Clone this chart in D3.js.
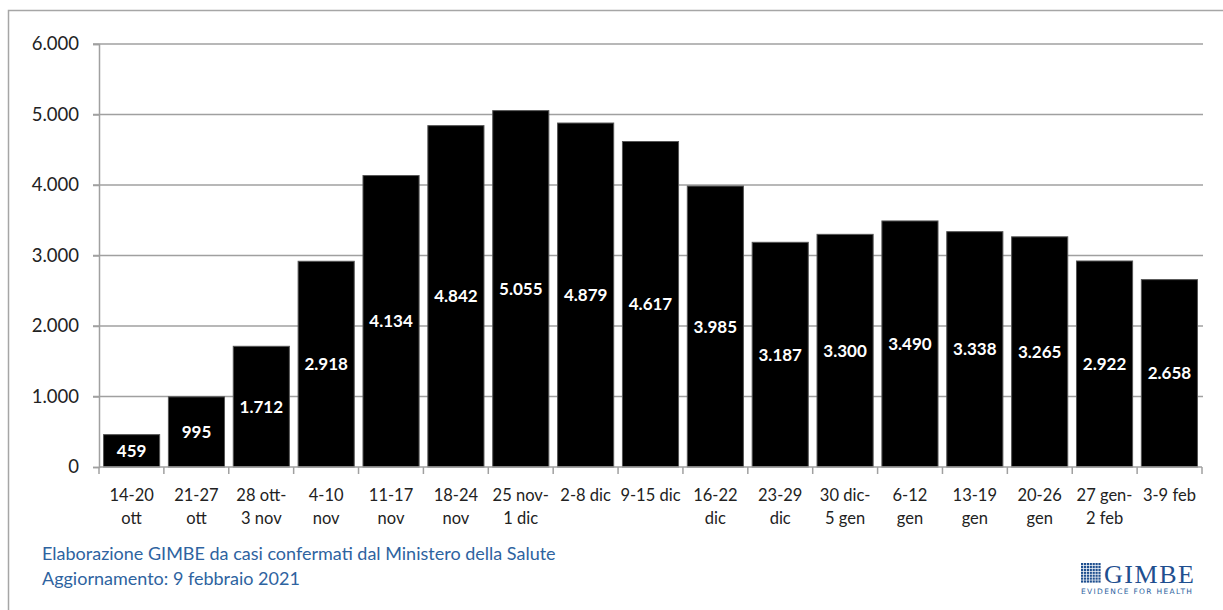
<!DOCTYPE html>
<html><head><meta charset="utf-8">
<script src="https://cdn.jsdelivr.net/npm/d3@7"></script>
<style>body{margin:0;background:#fff;}svg{display:block;}</style>
</head><body>
<svg id="c" width="1223" height="610"></svg>
<script>
const categories = [
  ["14-20","ott"],["21-27","ott"],["28 ott-","3 nov"],["4-10","nov"],["11-17","nov"],
  ["18-24","nov"],["25 nov-","1 dic"],["2-8 dic"],["9-15 dic"],["16-22","dic"],
  ["23-29","dic"],["30 dic-","5 gen"],["6-12","gen"],["13-19","gen"],["20-26","gen"],
  ["27 gen-","2 feb"],["3-9 feb"]
];
const values = [459,995,1712,2918,4134,4842,5055,4879,4617,3985,3187,3300,3490,3338,3265,2922,2658];
const yTicks = [0,1000,2000,3000,4000,5000,6000];
const footerLines = ["Elaborazione GIMBE da casi confermati dal Ministero della Salute","Aggiornamento: 9 febbraio 2021"];

const svg = d3.select("#c");
const font = "Lato, 'Open Sans', sans-serif";
const fmt = v => d3.format(",")(v).replace(/,/g,".");

// frame
svg.append("path").attr("d","M8.5,610 V10.5 H1223").attr("fill","none").attr("stroke","#a6a6a6").attr("stroke-width",1.5);

const x = d3.scaleBand().domain(d3.range(categories.length)).range([99,1202]).paddingInner(0.135).paddingOuter(0.07);
const y = d3.scaleLinear().domain([0,6000]).range([467,44]);

// gridlines
svg.append("g").selectAll("line").data(yTicks.filter(d=>d>0)).join("line")
  .attr("x1",93).attr("x2",1203).attr("y1",d=>y(d)).attr("y2",d=>y(d))
  .attr("stroke","#a0a0a0").attr("stroke-width",1.5);

// y axis
const ya = svg.append("g").attr("transform","translate(99,0)")
  .call(d3.axisLeft(y).tickValues(yTicks).tickSize(6).tickFormat(d=>d===0?"0":fmt(d)));
ya.select(".domain").attr("stroke","#a0a0a0").attr("stroke-width",1.5);
ya.selectAll(".tick line").attr("stroke","#a0a0a0").attr("stroke-width",1.5);
ya.selectAll(".tick text").attr("font-family",font).attr("font-size",18.5).attr("fill","#222").attr("dx",-11);

// bars
svg.append("g").selectAll("rect").data(values).join("rect")
  .attr("x",(d,i)=>x(i)).attr("width",x.bandwidth())
  .attr("y",d=>y(d)).attr("height",d=>y(0)-y(d))
  .attr("fill","#000").attr("stroke","#555").attr("stroke-width",1);

// value labels
svg.append("g").selectAll("text").data(values).join("text")
  .attr("x",(d,i)=>x(i)+x.bandwidth()/2)
  .attr("y",d=>(y(d)+y(0))/2)
  .attr("dy","0.36em").attr("text-anchor","middle")
  .attr("font-family",font).attr("font-weight","bold").attr("font-size",17).attr("fill","#fff")
  .text(d=>fmt(d));

// x axis
svg.append("line").attr("x1",99).attr("x2",1202).attr("y1",467).attr("y2",467).attr("stroke","#a0a0a0").attr("stroke-width",1.5);
const bounds = d3.range(categories.length+1).map(i=>99 + i*(1103/categories.length));
svg.append("g").selectAll("line").data(bounds).join("line")
  .attr("x1",d=>d).attr("x2",d=>d).attr("y1",467).attr("y2",474)
  .attr("stroke","#a0a0a0").attr("stroke-width",1.5);
const xl = svg.append("g").selectAll("text").data(categories).join("text")
  .attr("x",(d,i)=>x(i)+x.bandwidth()/2).attr("y",501)
  .attr("text-anchor","middle").attr("font-family",font).attr("font-size",16.5).attr("fill","#222");
xl.selectAll("tspan").data(d=>d).join("tspan")
  .attr("x",function(){return this.parentNode.getAttribute("x");})
  .attr("dy",(d,i)=>i===0?0:23).text(d=>d);

// footer
svg.append("g").selectAll("text").data(footerLines).join("text")
  .attr("x",42).attr("y",(d,i)=>560+i*25)
  .attr("font-family",font).attr("font-size",18).attr("fill","#2e63a0").text(d=>d);

// logo
const logo = svg.append("g").attr("transform","translate(1081,563)");
const gridN = 7;
for(let r=0;r<gridN;r++) for(let c=0;c<gridN;c++){
  logo.append("rect").attr("x",c*2.9).attr("y",r*2.9).attr("width",2.2).attr("height",2.2).attr("fill","#1f4f8f");
}
logo.append("text").attr("x",23).attr("y",20).attr("font-family","'Liberation Serif', serif").attr("font-size",26)
  .attr("fill","#1f4f8f").attr("textLength",90).text("GIMBE");
logo.append("text").attr("x",0).attr("y",31).attr("font-family","'DejaVu Sans', sans-serif").attr("font-size",7.5)
  .attr("fill","#2e63a0").attr("textLength",112).attr("letter-spacing",1).text("EVIDENCE FOR HEALTH");
</script>
</body></html>
